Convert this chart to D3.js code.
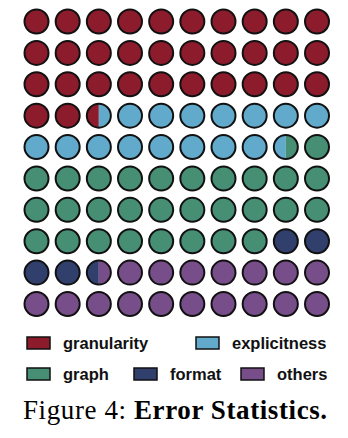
<!DOCTYPE html>
<html>
<head>
<meta charset="utf-8">
<script src="https://cdn.jsdelivr.net/npm/d3@7"></script>
<style>
  body { margin: 0; background: #fff; }
  svg { display: block; }
</style>
</head>
<body>
<svg id="chart" width="348" height="438"></svg>
<script>
// data
const categories = ["granularity", "explicitness", "graph", "format", "others"];
const counts = [32.5, 16, 29.5, 4.5, 17.5];
const colors = ["#8c1b2b", "#62aacb", "#468e74", "#313f6c", "#774d8a"];
const caption = ["Figure 4: ", "Error Statistics."];

let svg = d3.select("#chart");
let nCols = 10, nRows = 10;
let r = 12;

let x = d3.scaleLinear().domain([0, nCols - 1]).range([36.5, 317]);
let y = d3.scaleLinear().domain([0, nRows - 1]).range([21.5, 304]);
let color = d3.scaleOrdinal().domain(categories).range(colors);

// cumulative bounds of each category
let bounds = [];
let acc = 0;
categories.forEach((c, i) => {
    bounds.push({cat: c, start: acc, end: acc + counts[i]});
    acc += counts[i];
});

// split each unit cell into the categories overlapping it
let cells = d3.range(nCols * nRows).map(i => {
    let segs = bounds
        .filter(b => b.start < i + 1 && b.end > i)
        .map(b => ({cat: b.cat, from: Math.max(b.start, i) - i, to: Math.min(b.end, i + 1) - i}));
    return {i: i, col: i % nCols, row: Math.floor(i / nCols), segs: segs};
});

let defs = svg.append("defs");
let g = svg.append("g");

cells.forEach(cell => {
    let cx = x(cell.col), cy = y(cell.row);
    let cg = g.append("g").attr("transform", `translate(${cx},${cy})`);
    cell.segs.forEach((s, k) => {
        let id = `clip-${cell.i}-${k}`;
        defs.append("clipPath").attr("id", id)
            .append("rect")
            .attr("x", -r + s.from * 2 * r)
            .attr("y", -r - 1)
            .attr("width", (s.to - s.from) * 2 * r)
            .attr("height", 2 * r + 2);
        cg.append("circle")
            .attr("r", r)
            .attr("fill", color(s.cat))
            .attr("clip-path", `url(#${id})`);
    });
    cg.append("circle")
        .attr("r", r)
        .attr("fill", "none")
        .attr("stroke", "#111")
        .attr("stroke-width", 2);
});

// legend
let legendPos = [
    {x: 27, y: 343}, {x: 196, y: 343},
    {x: 27, y: 374}, {x: 134, y: 374}, {x: 241, y: 374}
];
let legend = svg.append("g")
    .selectAll("g")
    .data(categories)
    .join("g")
    .attr("transform", (d, i) => `translate(${legendPos[i].x},${legendPos[i].y})`);

legend.append("rect")
    .attr("x", 0).attr("y", -6)
    .attr("width", 23).attr("height", 12)
    .attr("fill", d => color(d))
    .attr("stroke", "#111")
    .attr("stroke-width", 1.5);

legend.append("text")
    .attr("x", 36)
    .attr("dy", "0.35em")
    .style("font-family", "'Liberation Sans', Arial, sans-serif")
    .style("font-weight", "bold")
    .style("font-size", "16.5px")
    .style("fill", "#111")
    .text(d => d);

// caption
let cap = svg.append("text")
    .attr("x", 23)
    .attr("y", 419)
    .style("font-family", "'Liberation Serif', 'Times New Roman', serif")
    .style("font-size", "27px")
    .style("letter-spacing", "0.6px")
    .style("fill", "#000");
cap.append("tspan").text(caption[0]);
cap.append("tspan").style("font-weight", "bold").text(caption[1]);
</script>
</body>
</html>
